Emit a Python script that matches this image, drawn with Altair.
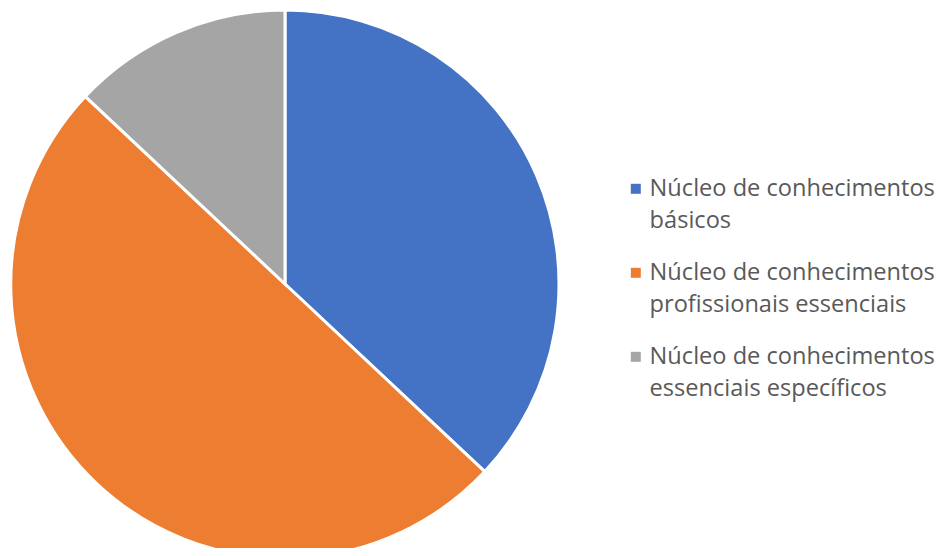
import altair as alt
import pandas as pd

categories = [
    "Núcleo de conhecimentos|básicos",
    "Núcleo de conhecimentos|profissionais essenciais",
    "Núcleo de conhecimentos|essenciais específicos",
]
values = [37, 50, 13]
order = [1, 2, 3]
colors = ["#4472C4", "#ED7D31", "#A5A5A5"]

df = pd.DataFrame({"cat": categories, "val": values, "ord": order})

chart = (
    alt.Chart(df)
    .mark_arc(outerRadius=274, stroke="white", strokeWidth=3)
    .encode(
        theta=alt.Theta("val:Q", stack=True),
        order=alt.Order("ord:Q"),
        x=alt.value(277),
        y=alt.value(276),
        color=alt.Color(
            "cat:N",
            sort=categories,
            scale=alt.Scale(domain=categories, range=colors),
            legend=alt.Legend(
                title=None,
                orient="none",
                legendX=616,
                legendY=169,
                symbolType="square",
                symbolSize=100,
                symbolStrokeWidth=0,
                labelFont="Open Sans",
                labelFontSize=23.6,
                labelColor="#595959",
                labelLimit=400,
                labelExpr="split(datum.label, '|')",
                rowPadding=27,
                labelOffset=2,
            ),
        ),
    )
    .properties(width=931, height=540, autosize=alt.AutoSizeParams(type="none"), padding=0)
    .configure(style={"guide-label": {"lineHeight": 32}})
    .configure_view(stroke=None)
)

chart.save("out.html", embed_options={"renderer": "svg", "actions": False})
